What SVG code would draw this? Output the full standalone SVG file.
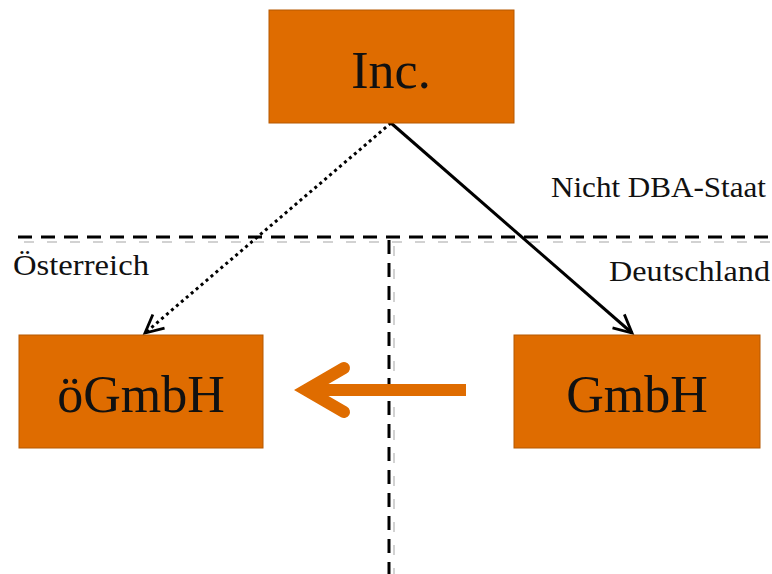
<svg xmlns="http://www.w3.org/2000/svg" width="772" height="574" viewBox="0 0 772 574">
<style>
.box{fill:#DF6C00;stroke:#B65800;stroke-width:1}
.big{font-family:"Liberation Serif","DejaVu Serif",serif;font-size:52px;fill:#111;text-anchor:middle}
.lbl{font-family:"Liberation Serif","DejaVu Serif",serif;font-size:29px;fill:#111}
.border{stroke:#000;stroke-width:3;stroke-dasharray:14 9;fill:none}
.tex{stroke:#aaaaaa;stroke-width:1.5;stroke-dasharray:10 13;fill:none;opacity:0.7}
</style>
<defs>
<marker id="open" viewBox="0 0 24 24" refX="21" refY="12" markerWidth="24" markerHeight="24" markerUnits="userSpaceOnUse" orient="auto">
<path d="M3,3 L21,12 L3,21" fill="none" stroke="#000" stroke-width="2.8"/>
</marker>
</defs>
<g id="borders">
<line class="tex" x1="24" y1="242" x2="770" y2="242"/>
<line class="tex" x1="394" y1="246" x2="394" y2="574"/>
<line class="border" x1="18" y1="237" x2="770" y2="237"/>
<line class="border" x1="389" y1="240" x2="389" y2="574"/>
</g>
<g id="labels">
<text class="lbl" x="766" y="197" text-anchor="end" textLength="215" lengthAdjust="spacingAndGlyphs">Nicht DBA-Staat</text>
<text class="lbl" x="770" y="281" text-anchor="end" textLength="161" lengthAdjust="spacingAndGlyphs">Deutschland</text>
<text class="lbl" x="13" y="275" textLength="136" lengthAdjust="spacingAndGlyphs">Österreich</text>
</g>
<g id="connectors">
<line x1="391" y1="123" x2="632" y2="333" stroke="#000" stroke-width="3" marker-end="url(#open)"/>
<line x1="391" y1="123" x2="145" y2="333" stroke="#000" stroke-width="3" stroke-dasharray="3 3.5" marker-end="url(#open)"/>
<g stroke="#DF6C00" stroke-width="12" fill="none" stroke-linecap="round" stroke-linejoin="miter">
<line x1="466" y1="390" x2="312" y2="390" stroke-linecap="butt"/>
<polyline points="344,368 306,390 344,412"/>
</g>
</g>
<g id="inc">
<rect class="box" x="269" y="10" width="245" height="113"/>
<text class="big" x="391" y="88">Inc.</text>
</g>
<g id="oegmbh">
<rect class="box" x="19" y="335" width="244" height="113"/>
<text class="big" x="141" y="412">öGmbH</text>
</g>
<g id="gmbh">
<rect class="box" x="514" y="335" width="246" height="113"/>
<text class="big" x="637" y="412">GmbH</text>
</g>
</svg>
